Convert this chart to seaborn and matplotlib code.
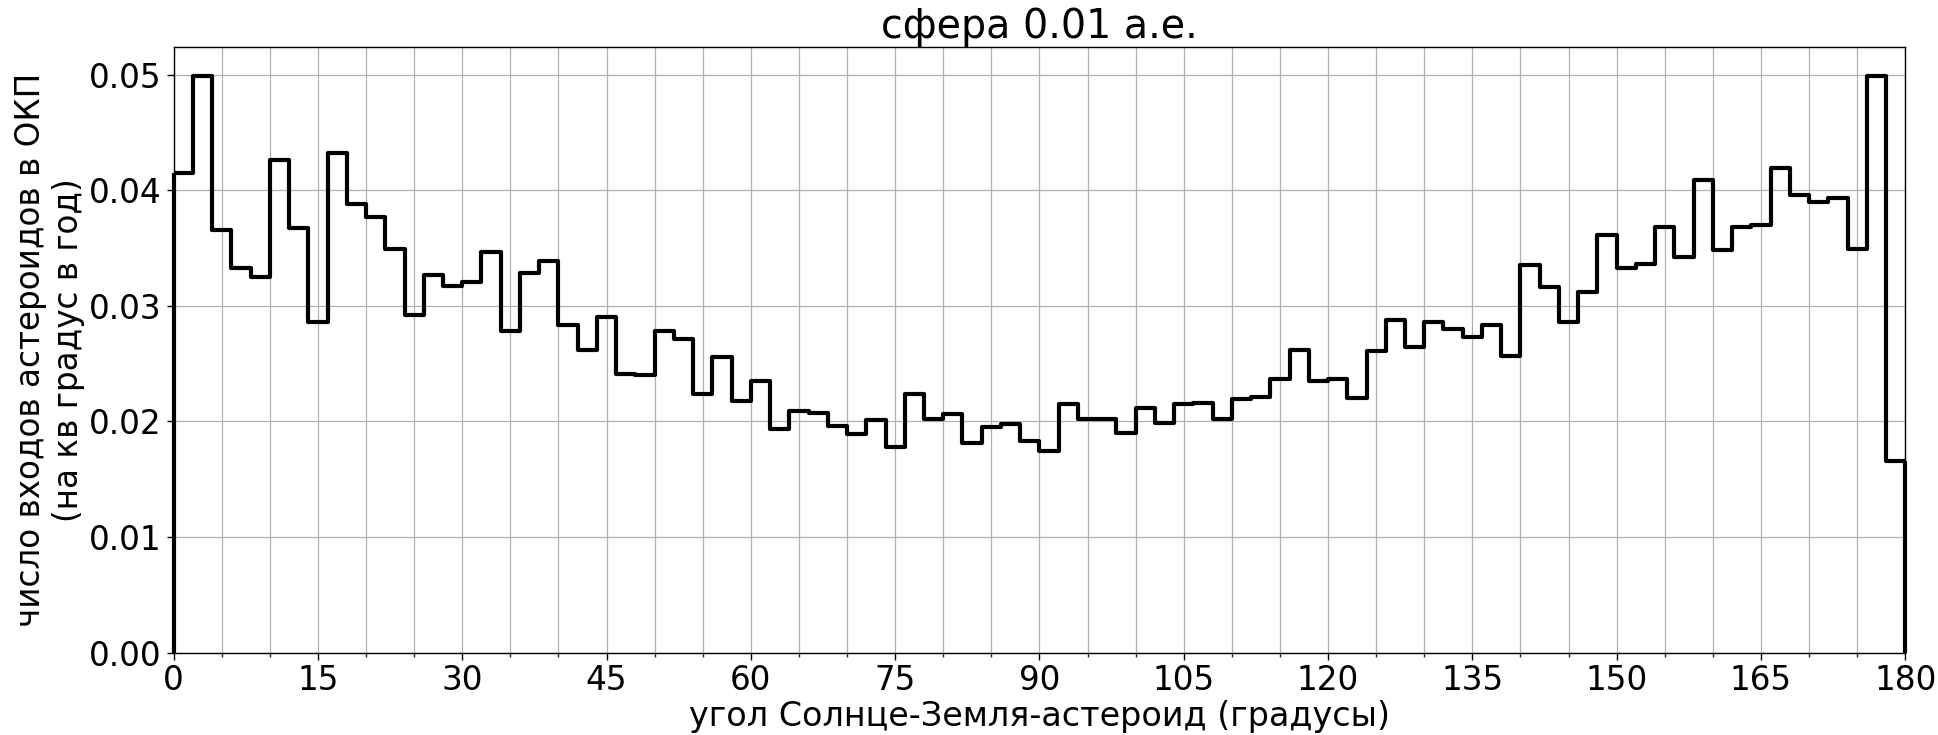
import numpy as np
import pandas as pd
import matplotlib
matplotlib.use("Agg")
import matplotlib.pyplot as plt
from matplotlib.ticker import MultipleLocator, FormatStrFormatter
import seaborn as sns

# Sun-Earth-asteroid angle histogram, 2-degree bins from 0 to 180
bin_width = 2
angle_range = (0, 180)
rate = [
    0.0415, 0.0499, 0.0366, 0.0333, 0.0325, 0.0426, 0.0367, 0.0286, 0.0432, 0.0388,
    0.0377, 0.0349, 0.0292, 0.0327, 0.0317, 0.0321, 0.0347, 0.0278, 0.0328, 0.0339,
    0.0283, 0.0262, 0.0290, 0.0241, 0.0240, 0.0278, 0.0271, 0.0224, 0.0256, 0.0218,
    0.0235, 0.0193, 0.0209, 0.0207, 0.0196, 0.0189, 0.0201, 0.0178, 0.0224, 0.0202,
    0.0206, 0.0181, 0.0195, 0.0198, 0.0183, 0.0174, 0.0215, 0.0202, 0.0202, 0.0190,
    0.0212, 0.0199, 0.0215, 0.0216, 0.0202, 0.0219, 0.0221, 0.0237, 0.0262, 0.0235,
    0.0237, 0.0220, 0.0261, 0.0288, 0.0264, 0.0286, 0.0280, 0.0273, 0.0283, 0.0257,
    0.0335, 0.0316, 0.0286, 0.0312, 0.0361, 0.0333, 0.0336, 0.0368, 0.0342, 0.0409,
    0.0348, 0.0368, 0.0370, 0.0419, 0.0396, 0.0390, 0.0393, 0.0349, 0.0499, 0.0166,
]

title = "сфера 0.01 а.е."
x_label = "угол Солнце-Земля-астероид (градусы)"
y_label = "число входов астероидов в ОКП\n(на кв градус в год)"

edges = np.arange(angle_range[0], angle_range[1] + bin_width, bin_width)
centers = (edges[:-1] + edges[1:]) / 2
df = pd.DataFrame({"angle": centers, "rate": rate})

sns.set_style("ticks")
plt.rcParams["font.family"] = ["DejaVu Sans"]
plt.rcParams["text.color"] = "black"
plt.rcParams["axes.labelcolor"] = "black"

fig = plt.figure(figsize=(19.38, 7.35), dpi=100)
ax = fig.add_axes([0.0896, 0.1122, 0.8935, 0.8238])

line_w = 3.0
sns.histplot(data=df, x="angle", weights="rate", binwidth=bin_width,
             binrange=angle_range, element="step", fill=False,
             color="black", linewidth=line_w, ax=ax)
# close the outline down to the baseline at both ends of the range
ax.vlines([edges[0], edges[-1]], 0, [rate[0], rate[-1]], color="black",
          linewidth=line_w, clip_on=False, zorder=3)

ax.set_xlim(*angle_range)
ax.set_ylim(0, max(rate) * 1.05)
ax.xaxis.set_major_locator(MultipleLocator(15))
ax.xaxis.set_minor_locator(MultipleLocator(5))
ax.yaxis.set_major_locator(MultipleLocator(0.01))
ax.yaxis.set_major_formatter(FormatStrFormatter("%.2f"))
ax.grid(True, which="both", axis="x", color="#b0b0b0", linewidth=0.9)
ax.grid(True, which="major", axis="y", color="#b0b0b0", linewidth=0.9)
ax.set_axisbelow(True)
ax.tick_params(axis="both", which="major", labelsize=23.5, direction="out",
               length=5, width=1, colors="black")
ax.tick_params(axis="x", which="minor", direction="out", length=3, width=1)
for sp in ax.spines.values():
    sp.set_color("black")
    sp.set_linewidth(1.0)

ax.set_title(title, fontsize=28.5, pad=5)
ax.set_xlabel(x_label, fontsize=24, labelpad=2)
ax.set_ylabel(y_label, fontsize=23.5, labelpad=3)

fig.savefig("out.png", dpi=100)
